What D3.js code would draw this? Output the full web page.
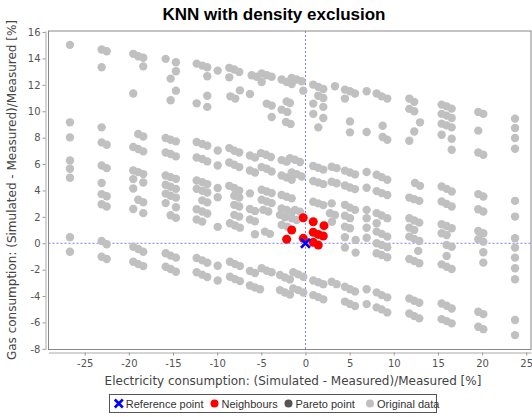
<!DOCTYPE html>
<html><head><meta charset="utf-8">
<script src="https://cdn.jsdelivr.net/npm/d3@7/dist/d3.min.js"></script>
<style>
body{margin:0;background:#fff;}
svg{display:block;}
</style></head>
<body>
<svg id="chart" width="532" height="417"></svg>
<script>
const title = "KNN with density exclusion";
const xLabel = "Electricity consumption: (Simulated - Measured)/Measured [%]";
const yLabel = "Gas consumption: (Simulated - Measured)/Measured [%]";
const xTicks = [-25,-20,-15,-10,-5,0,5,10,15,20,25];
const yTicks = [-8,-6,-4,-2,0,2,4,6,8,10,12,14,16];
const legendItems = ["Reference point","Neighbours","Pareto point","Original data"];

// Original data, grouped by column cluster [x, y]
const colA = [[-26.67,15.03],[-26.67,9.16],[-26.67,8.02],[-26.67,6.27],[-26.67,5.64],[-26.67,4.96],[-26.67,0.46],[-26.67,-0.64]];
const colB = [[-23.08,14.68],[-22.51,14.55],[-23.08,13.33],[-23.08,8.78],[-23.08,7.64],[-22.51,7.46],[-23.08,5.89],[-22.51,5.69],
  [-23.08,4.56],[-23.08,3.72],[-22.51,3.56],[-23.08,2.95],[-22.51,2.78],[-23.08,0.17],[-22.51,-0.08],[-23.08,-1.02],[-22.51,-1.19]];
const colC = [[-19.5,14.35],[-18.94,14.17],[-18.37,14.05],[-18.37,13.4],[-19.5,11.34],[-18.94,8.28],[-18.37,8.09],
  [-19.5,7.29],[-18.94,7.14],[-18.37,6.96],[-19.5,5.51],[-18.94,5.39],[-18.37,5.24],[-19.5,4.86],[-18.37,4.6],[-19.5,4.15],
  [-18.94,3.29],[-18.37,3.11],[-19.5,2.6],[-18.37,2.28],[-19.5,-0.26],[-18.94,-0.44],[-18.37,-0.64],[-19.5,-1.4],[-18.94,-1.58],[-18.37,-1.73]];
const colD = [[-15.83,13.97],[-14.67,13.71],[-14.67,13.03],[-15.27,12.47],[-14.67,11.56],[-15.27,10.83],
  [-15.83,7.97],[-15.27,7.84],[-14.67,7.72],[-15.83,6.88],[-15.27,6.76],[-14.67,6.58],[-15.83,5.13],[-15.27,5.01],[-14.67,4.88],
  [-15.83,4.43],[-15.27,4.28],[-14.67,4.12],[-15.83,3.76],[-15.27,3.6],[-14.67,3.46],[-15.83,3.04],[-14.67,2.73],[-15.27,2.12],[-14.67,1.92],
  [-15.83,-0.76],[-15.27,-0.94],[-14.67,-1.09],[-15.83,-1.78],[-15.27,-1.95],[-14.67,-2.16]];
const colE = [[-12.32,13.61],[-11.69,13.46],[-11.12,13.33],[-11.12,12.65],[-9.94,13.08],[-11.12,11.18],[-12.32,10.6],[-11.12,10.33],
  [-12.32,7.67],[-11.69,7.52],[-11.12,7.39],[-12.32,6.5],[-11.69,6.38],[-11.12,6.2],[-9.94,7.03],[-9.94,5.89],
  [-12.32,4.75],[-11.69,4.63],[-11.12,4.48],[-12.32,4.12],[-11.69,3.98],[-11.12,3.84],[-11.69,3.25],[-11.12,3.1],
  [-12.32,2.57],[-11.69,2.4],[-11.12,2.25],[-12.32,1.8],[-11.69,1.64],[-9.94,4.18],[-9.94,3.49],[-9.94,1.24],
  [-12.32,-1.12],[-11.69,-1.3],[-11.12,-1.48],[-12.32,-2.2],[-11.69,-2.38],[-11.12,-2.56],[-9.94,-1.7],[-9.94,-2.82]];
const colF = [[-8.63,13.29],[-8.06,13.16],[-7.5,12.98],[-8.63,12.57],[-8.5,11.13],[-7.95,10.96],[-7.42,11.58],[-6.29,11.31],
  [-8.63,7.21],[-8.06,7.01],[-7.5,6.88],[-8.63,6.12],[-8.06,5.95],[-7.5,5.77],[-8.63,4.35],[-8.06,4.18],[-7.5,3.99],
  [-8.06,3.6],[-7.5,3.46],[-8.06,2.91],[-7.5,2.78],[-8.06,2.15],[-7.5,2.02],[-8.55,1.52],[-7.98,1.34],[-7.42,1.18],
  [-8.55,-1.4],[-7.98,-1.58],[-7.42,-1.73],[-8.55,-2.54],[-7.98,-2.72],[-7.42,-2.87]];
const colG = [[-6.09,12.73],[-5.53,12.61],[-4.96,12.86],[-4.39,12.73],[-3.83,12.61],[-4.96,12.22],[-4.39,10.58],[-3.83,10.43],[-3.83,9.57],
  [-6.29,6.65],[-5.72,6.5],[-6.29,5.51],[-5.72,5.36],[-5.04,6.83],[-4.47,6.7],[-3.91,6.53],[-4.96,5.77],[-4.39,5.64],[-3.83,5.44],
  [-6.29,3.78],[-4.96,4.05],[-4.39,3.92],[-3.83,3.8],[-4.96,3.29],[-4.39,3.16],[-3.83,3.04],[-6.29,2.6],[-5.72,2.45],
  [-4.78,2.53],[-4.21,2.4],[-6.29,1.8],[-5.72,1.66],[-5.72,0.68],[-4.59,0.88],[-4.02,0.71],
  [-6.29,-2.1],[-5.72,-2.25],[-4.96,-1.9],[-4.39,-2.08],[-3.83,-2.2],[-6.29,-3.2],[-5.72,-3.35],[-5.15,-3.48]];
const colH = [[-2.7,12.4],[-2.13,12.22],[-1.56,12.07],[-1.56,12.53],[-1.0,12.4],[-0.43,12.27],[-0.25,11.56],
  [-2.13,10.75],[-1.76,10.63],[-2.7,10.12],[-2.06,9.95],[-2.21,9.19],[-1.68,9.04],
  [-2.7,6.3],[-2.13,6.18],[-1.76,6.45],[-1.19,6.33],[-0.62,6.15],[-2.7,5.13],[-2.13,4.98],[-1.56,4.81],
  [-1.56,5.36],[-1.0,5.24],[-0.43,5.06],[-2.7,3.65],[-2.13,3.52],[-1.56,3.4],[-2.7,2.64],[-2.13,2.52],[-1.56,2.34],
  [-1.19,2.52],[-0.62,2.39],[-1.56,1.89],[-1.0,1.76],[-2.89,2.15],[-2.32,1.97],[-2.7,1.39],[-2.06,1.26],
  [-2.89,-2.41],[-2.32,-2.59],[-1.76,-2.74],[-1.38,-2.2],[-0.82,-2.36],[-0.25,-2.54],
  [-2.89,-3.55],[-2.32,-3.73],[-1.76,-3.88],[-1.38,-3.42],[-0.82,-3.55],[-0.25,-3.73]];
const colI = [[0.88,12.02],[1.45,11.85],[2.02,11.69],[1.45,11.18],[2.02,11.01],[0.88,10.58],[2.02,10.33],[0.88,9.8],[2.02,9.49],[1.45,8.78],[3.34,11.89],
  [0.88,5.85],[1.45,5.72],[2.02,5.58],[2.97,5.8],[3.53,5.69],[0.88,4.72],[1.45,4.6],[2.02,4.48],[2.97,4.66],[3.53,4.54],
  [0.88,3.14],[1.45,3.02],[2.02,2.89],[2.97,3.02],[2.77,2.27],[3.34,2.14],[3.0,1.63],
  [0.88,-2.82],[1.45,-2.95],[2.02,-3.1],[2.97,-2.92],[3.53,-3.1],[0.88,-3.93],[1.45,-4.08],[2.02,-4.25]];
const colJ = [[4.47,11.64],[5.04,11.51],[5.61,11.34],[4.47,10.96],[5.04,9.23],[5.04,8.4],[6.93,11.51],[6.93,8.43],
  [4.47,5.5],[5.04,5.36],[5.61,5.22],[4.47,4.38],[5.04,4.22],[5.61,4.1],[6.93,5.4],[6.93,4.2],
  [4.47,2.91],[5.04,2.7],[5.61,2.53],[4.47,2.09],[5.04,1.9],[4.47,1.26],[5.04,1.14],[4.47,0.46],[4.47,-0.33],[5.68,0.25],[5.68,-0.71],
  [6.93,2.53],[6.93,1.9],[6.93,1.17],[6.93,0.42],
  [4.47,-3.3],[5.04,-3.48],[5.61,-3.65],[4.47,-4.42],[5.04,-4.6],[5.61,-4.76],[6.93,-3.49],[6.93,-4.61]];
const colK = [[8.06,11.34],[8.63,11.13],[9.26,10.96],[8.74,8.9],[8.74,8.05],[9.26,7.84],
  [8.06,5.19],[8.63,5.01],[9.26,4.81],[8.06,3.95],[8.63,3.8],[9.26,3.65],[8.06,2.28],[8.63,2.1],[9.26,1.9],[8.06,1.52],
  [8.06,0.88],[8.63,0.71],[9.26,0.5],[8.06,0.0],[8.63,-0.13],[9.26,-0.3],[8.06,-0.76],[8.63,-0.89],[9.26,-1.06],
  [8.06,-3.72],[8.63,-3.93],[9.26,-4.1],[8.06,-4.86],[8.63,-5.01],[9.26,-5.24]];
const colL = [[11.76,10.96],[12.32,10.71],[11.76,10.18],[12.32,10.0],[12.97,9.16],[12.32,8.47],[11.76,7.77],
  [12.4,4.56],[12.97,4.35],[11.76,3.46],[12.32,3.34],[12.89,3.21],[11.76,1.9],[12.32,1.72],[12.89,1.56],[11.76,1.18],[12.32,1.01],
  [11.76,0.5],[12.32,0.33],[12.89,0.17],[12.77,-0.58],[11.76,-1.19],[12.32,-1.34],[12.89,-1.52],
  [11.76,-4.18],[12.32,-4.36],[12.89,-4.51],[11.76,-5.32],[12.32,-5.52],[12.89,-5.69]];
const colM = [[15.42,10.5],[15.99,10.37],[16.56,10.2],[15.42,9.8],[15.99,9.67],[16.56,9.49],[15.42,9.06],[15.99,8.93],[16.56,8.78],
  [15.42,8.22],[16.56,7.92],[16.56,7.08],
  [15.42,4.3],[15.99,4.12],[16.56,3.92],[15.42,3.16],[15.99,2.98],[16.56,2.78],[15.42,1.44],[15.99,1.31],[16.56,1.14],
  [15.42,0.76],[15.99,0.63],[15.99,-0.13],[16.56,-0.26],[15.99,-0.96],[15.42,-1.6],[15.99,-1.78],[16.56,-1.95],
  [15.42,-4.56],[15.99,-4.74],[16.56,-4.94],[15.42,-5.75],[15.99,-5.9],[16.56,-6.07]];
const colN = [[19.57,9.95],[20.14,9.8],[19.57,8.53],[19.57,6.88],[20.14,6.71],
  [19.57,3.72],[20.14,3.54],[19.57,2.58],[20.14,2.4],[19.57,0.93],[20.14,0.76],[19.57,0.3],[20.14,0.12],[20.14,-0.68],[20.14,-1.47],
  [19.57,-5.19],[20.14,-5.37],[19.57,-6.33],[20.14,-6.51]];
const colO = [[23.73,9.44],[23.73,8.73],[23.73,7.97],[23.73,7.16],[23.73,3.21],[23.73,2.02],
  [23.73,0.38],[23.73,-0.33],[23.73,-1.09],[23.73,-1.9],[23.73,-2.73],[23.73,-5.82],[23.73,-6.96]];

const neighbours = [[-0.25,1.93],[0.88,1.63],[2.1,1.33],[-1.56,1.0],[0.88,0.83],[1.45,0.67],[2.02,0.55],
  [-2.13,0.3],[-0.25,0.37],[0.88,0.07],[1.45,-0.14]];
const referencePoint = [[0,0]];

const originalData = [].concat(colA,colB,colC,colD,colE,colF,colG,colH,colI,colJ,colK,colL,colM,colN,colO);

const svg = d3.select("#chart");
const L = 48.5, R = 531, T = 31, B = 349.5;
const x = d3.scaleLinear().domain([-29.1, 25.54]).range([L, R]);
const y = d3.scaleLinear().domain([-8.05, 16.08]).range([B, T]);
const FONT = "'DejaVu Sans', sans-serif";
const LFONT = "'Liberation Sans', Arial, sans-serif";

svg.append("text").attr("x", 274).attr("y", 20).attr("text-anchor","middle")
  .attr("font-family",LFONT).attr("font-weight","bold").attr("font-size",17)
  .attr("fill","#000").text(title);

svg.append("rect").attr("x",L).attr("y",T).attr("width",R-L).attr("height",B-T).attr("fill","#fff");

// crosshair lines
svg.append("line").attr("x1",x(0)).attr("x2",x(0)).attr("y1",T).attr("y2",B)
  .attr("stroke","#7b7bff").attr("stroke-width",1).attr("stroke-dasharray","2,2");
svg.append("line").attr("x1",L).attr("x2",R).attr("y1",y(0)).attr("y2",y(0))
  .attr("stroke","#7b7bff").attr("stroke-width",1).attr("stroke-dasharray","2,2");

// points
svg.append("g").selectAll("circle").data(originalData).join("circle")
  .attr("cx", d => x(d[0])).attr("cy", d => y(d[1])).attr("r", 4.2).attr("fill", "#c0c0c0");
svg.append("g").selectAll("circle").data(neighbours).join("circle")
  .attr("cx", d => x(d[0])).attr("cy", d => y(d[1])).attr("r", 4.5).attr("fill", "#ff0000");
const xs = 4.5;
svg.append("g").selectAll("path").data(referencePoint).join("path")
  .attr("d", d => { const cx = x(d[0]), cy = y(d[1]);
    return `M${cx-xs},${cy-xs}L${cx+xs},${cy+xs}M${cx-xs},${cy+xs}L${cx+xs},${cy-xs}`; })
  .attr("stroke","#0000ff").attr("stroke-width",2.6).attr("fill","none");

// frame
svg.append("rect").attr("x",L).attr("y",T).attr("width",R-L).attr("height",B-T)
  .attr("fill","none").attr("stroke","#888").attr("stroke-width",1);

// axes
const fmt = d => String(d);
const xAxis = svg.append("g").attr("transform",`translate(0,${B+3})`)
  .call(d3.axisBottom(x).tickValues(xTicks).tickFormat(fmt).tickSize(3).tickSizeOuter(0).tickPadding(4));
const yAxis = svg.append("g").attr("transform",`translate(${L-3},0)`)
  .call(d3.axisLeft(y).tickValues(yTicks).tickFormat(fmt).tickSize(3).tickSizeOuter(0).tickPadding(2));
[xAxis,yAxis].forEach(g => {
  g.select(".domain").attr("stroke","#aaa");
  g.selectAll(".tick line").attr("stroke","#999");
  g.selectAll(".tick text").attr("fill","#555").attr("font-family",FONT).attr("font-size",10);
});

svg.append("text").attr("x", 293).attr("y", 385).attr("text-anchor","middle")
  .attr("font-family",FONT).attr("font-size",12).attr("fill","#444").text(xLabel);
svg.append("text").attr("transform","translate(16,190) rotate(-90)").attr("text-anchor","middle")
  .attr("font-family",FONT).attr("font-size",12).attr("fill","#444").text(yLabel);

// legend
const lg = svg.append("g");
lg.append("rect").attr("x",109.5).attr("y",394.5).attr("width",327).attr("height",18)
  .attr("fill","#fff").attr("stroke","#555").attr("stroke-width",1);
const legendX = [118.8, 214.5, 288.5, 370];
const legendColors = ["#0000ff","#ff0000","#555555","#c0c0c0"];
legendItems.forEach((t,i) => {
  const cx = legendX[i], cy = 403.5;
  if (i === 0) {
    lg.append("path").attr("d",`M${cx-4},${cy-4}L${cx+4},${cy+4}M${cx-4},${cy+4}L${cx+4},${cy-4}`)
      .attr("stroke",legendColors[i]).attr("stroke-width",2.6);
  } else {
    lg.append("circle").attr("cx",cx).attr("cy",cy).attr("r",4).attr("fill",legendColors[i]);
  }
  lg.append("text").attr("x",cx+7).attr("y",cy+4).attr("font-family",LFONT).attr("font-size",11)
    .attr("fill","#333").text(t);
});
</script>
</body></html>
